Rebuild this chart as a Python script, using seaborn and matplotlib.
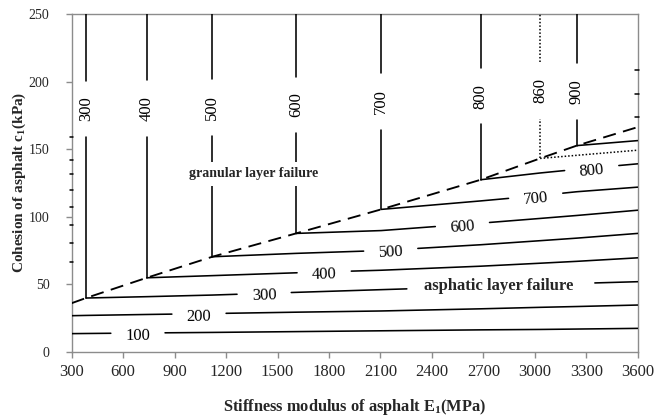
import numpy as np
import pandas as pd
import seaborn as sns
import matplotlib
matplotlib.use("Agg")
import matplotlib.pyplot as plt
from matplotlib.transforms import blended_transform_factory

nan = np.nan

# Stiffness modulus grid (MPa) shared by every curve
E_grid = [300, 383, 737, 1120, 1608, 2104, 2685, 3031, 3245, 3600]

# Boundary between the two failure modes (kPa)
c_boundary = [36.0, 39.8, 54.8, 70.4, 87.7, 105.5, 127.5, 143.3, 152.8, 166.5]

# Asphaltic-layer-failure isolines: cohesion (kPa) along E_grid
c_100 = [13.4, 13.5, 13.9, 14.3, 14.9, 15.5, 16.2, 16.5, 16.8, 17.3]
c_200 = [26.7, 26.9, 27.6, 28.3, 29.3, 30.2, 31.8, 32.9, 33.5, 34.6]
c_300 = [nan, 39.8, 40.8, 42.0, 44.0, 46.0, 48.3, 49.7, 50.6, 51.9]
c_400 = [nan, nan, 54.8, 56.4, 58.5, 60.4, 63.4, 65.6, 67.0, 69.6]
c_500 = [nan, nan, nan, 70.4, 72.9, 75.0, 79.3, 82.3, 84.2, 87.7]
c_600 = [nan, nan, nan, nan, 87.7, 89.8, 95.3, 98.8, 101.0, 104.9]
c_700 = [nan, nan, nan, nan, nan, 105.5, 111.8, 115.8, 118.6, 122.0]
c_800 = [nan, nan, nan, nan, nan, nan, 127.5, 132.5, 135.2, 139.3]
c_860 = [nan, nan, nan, nan, nan, nan, nan, 143.3, 145.6, 149.4]
c_900 = [nan, nan, nan, nan, nan, nan, nan, nan, 152.8, 156.5]

asph_levels = [100, 200, 300, 400, 500, 600, 700, 800, 860, 900]
asph_curves = [c_100, c_200, c_300, c_400, c_500, c_600, c_700, c_800, c_860, c_900]

# Granular-layer-failure isolines are vertical, at these moduli (MPa)
gran_levels = [300, 400, 500, 600, 700, 800, 860, 900]
gran_E = [383, 737, 1120, 1608, 2104, 2685, 3031, 3245]

# Short pieces of further isolines meeting the frame edges (kPa)
edge_left_c = [66.7, 80.3, 93.9, 107.4, 120.0, 132.1, 142.0, 159.3]
edge_right_c = [174.1, 191.4, 208.7]

# Where the inline level labels sit
asph_label_E = {100: 686, 200: 1042, 300: 1422, 400: 1772, 500: 2160,
                600: 2578, 700: 3005, 800: 3332}
gran_label_c = [180, 180.5, 181, 183, 185.5, 189.5, 193.5, 193]
E_gap = 158      # half width of the break left for a horizontal label (MPa)
c_gap = 21       # half height of the break left for a vertical label (kPa)
asph_text_gap = (2254, 3350)   # break in the 300 line under the region text

sns.set_theme(style="white")
plt.rcParams["font.family"] = ["Liberation Serif", "DejaVu Serif"]
plt.rcParams["mathtext.fontset"] = "custom"
plt.rcParams["mathtext.rm"] = "Liberation Serif"
plt.rcParams["mathtext.bf"] = "Liberation Serif:bold"

fig = plt.figure(figsize=(6.55, 4.2), dpi=100)
ax = fig.add_axes([0.1095, 0.1626, 0.8641, 0.8029])
ax.set_xlim(300, 3600)
ax.set_ylim(0, 250)


def pieces(xs, ys, gaps):
    """Split a polyline into the parts lying outside the given x-intervals."""
    xs = np.asarray(xs, float)
    ys = np.asarray(ys, float)
    ok = ~np.isnan(ys)
    xs, ys = xs[ok], ys[ok]
    keep, start = [], xs[0]
    for a, b in sorted(gaps):
        keep.append((start, a))
        start = b
    keep.append((start, xs[-1]))
    out = []
    for a, b in keep:
        if b <= a:
            continue
        px = np.concatenate([[a], xs[(xs > a) & (xs < b)], [b]])
        out.append((px, np.interp(px, xs, ys)))
    return out


solid_rows, dotted_rows = [], []
seg = 0
for lev, cur in zip(asph_levels, asph_curves):
    gaps = []
    if lev in asph_label_E:
        gaps.append((asph_label_E[lev] - E_gap, asph_label_E[lev] + E_gap))
    if lev == 300:
        gaps.append(asph_text_gap)
    for px, py in pieces(E_grid, cur, gaps):
        rows = dotted_rows if lev == 860 else solid_rows
        for x, y in zip(px, py):
            rows.append({"E": x, "c": y, "seg": seg})
        seg += 1

for lev, e, lc in zip(gran_levels, gran_E, gran_label_c):
    c0 = float(np.interp(e, E_grid, c_boundary))
    rows = dotted_rows if lev == 860 else solid_rows
    for a, b in [(c0, lc - c_gap), (lc + c_gap, 250)]:
        rows.append({"E": e, "c": a, "seg": seg})
        rows.append({"E": e, "c": b, "seg": seg})
        seg += 1

solid = pd.DataFrame(solid_rows)
dotted = pd.DataFrame(dotted_rows)
bound = pd.DataFrame({"E": E_grid, "c": c_boundary})

sns.lineplot(data=solid, x="E", y="c", units="seg", estimator=None, sort=False,
             color="black", lw=1.15, ax=ax, zorder=3)
sns.lineplot(data=dotted, x="E", y="c", units="seg", estimator=None, sort=False,
             color="black", lw=1.1, ax=ax, zorder=3, linestyle=(0, (1, 1.3)))
sns.lineplot(data=bound, x="E", y="c", estimator=None, sort=False,
             color="black", lw=1.35, ax=ax, zorder=4, dashes=False)
ax.lines[-1].set_dashes((7, 4))

# stubs of further isolines on the left and right frame edges
trL = blended_transform_factory(ax.transAxes, ax.transData)
for cv in edge_left_c:
    ax.plot([-0.003, 0.003], [cv, cv], color="black", lw=1.1,
            transform=trL, clip_on=False, zorder=3)
for cv in edge_right_c:
    ax.plot([0.996, 1.003], [cv, cv], color="black", lw=1.1,
            transform=trL, clip_on=False, zorder=3)

# inline labels along the asphaltic isolines
for lev, cur in zip(asph_levels, asph_curves):
    if lev not in asph_label_E:
        continue
    e = asph_label_E[lev]
    xs = np.asarray(E_grid, float)
    ys = np.asarray(cur, float)
    ok = ~np.isnan(ys)
    y1 = np.interp(e - 120, xs[ok], ys[ok])
    y2 = np.interp(e + 120, xs[ok], ys[ok])
    p1, p2 = ax.transData.transform([(e - 120, y1), (e + 120, y2)])
    ang = np.degrees(np.arctan2(p2[1] - p1[1], p2[0] - p1[0]))
    yc = np.interp(e, xs[ok], ys[ok])
    ax.text(e, yc - 2.0, str(lev), ha="center", va="center", fontsize=12,
            rotation=ang, rotation_mode="anchor", color="black", zorder=5)

# labels on the vertical granular isolines
for lev, e, lc in zip(gran_levels, gran_E, gran_label_c):
    ax.text(e, lc, str(lev), ha="center", va="center", rotation=90,
            fontsize=12, color="black", zorder=5)

ax.text(1360, 132, "granular layer failure", ha="center", va="center",
        fontsize=10, fontweight="bold", zorder=6,
        bbox=dict(facecolor="white", edgecolor="none", pad=4))
ax.text(2790, 48.7, "asphatic layer failure", ha="center", va="center",
        fontsize=12, fontweight="bold", zorder=6)

# axes styling
ax.set_xticks(np.arange(300, 3601, 300))
ax.set_yticks(np.arange(0, 251, 50))
for sp in ax.spines.values():
    sp.set_color("#8c8c8c")
    sp.set_linewidth(1.0)
ax.tick_params(axis="x", direction="out", length=4, width=1.0, color="#8c8c8c",
               labelsize=12, pad=5, bottom=True)
ax.tick_params(axis="y", direction="out", length=4, width=1.0, color="#8c8c8c",
               labelsize=10, pad=12, left=True)
ax.grid(False)

ax.set_xlabel(r"Stiffness modulus of asphalt E$_{\mathbf{1}}$(MPa)", fontsize=11.8,
              fontweight="bold", va="center")
ax.xaxis.set_label_coords(0.5, -0.163)
ax.set_ylabel(r"Cohesion of asphalt c$_{\mathbf{1}}$(kPa)", fontsize=11,
              fontweight="bold", va="center")
ax.yaxis.set_label_coords(-0.093, 0.502)

fig.savefig("out.png", dpi=100)
